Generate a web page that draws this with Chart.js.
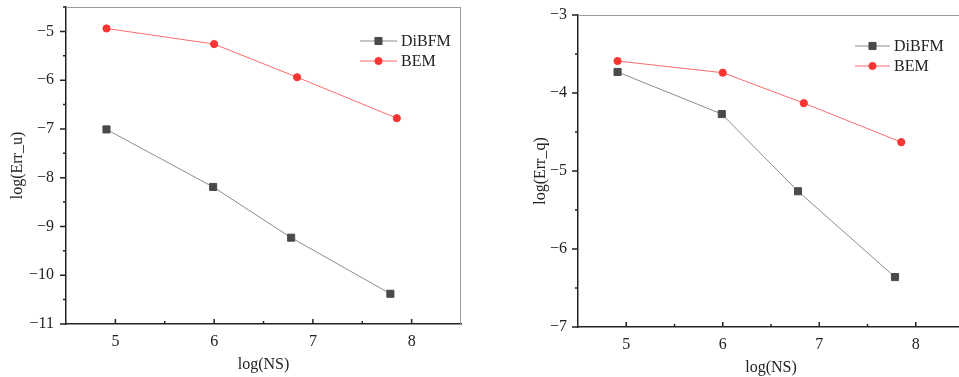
<!DOCTYPE html>
<html>
<head>
<meta charset="utf-8">
<script src="https://cdn.jsdelivr.net/npm/chart.js@4.4.1/dist/chart.umd.min.js"></script>
<style>
  html, body { margin: 0; padding: 0; background: #fff; overflow: hidden; width: 959px; height: 377px; }
  #wrapU { position: absolute; left: 0; top: 0; width: 480px; height: 377px; }
  #wrapQ { position: absolute; left: 480px; top: 0; width: 500px; height: 377px; }
</style>
</head>
<body>
<div id="wrapU"><canvas id="chartU"></canvas></div>
<div id="wrapQ"><canvas id="chartQ"></canvas></div>
<script>
const nsDiBFM = [4.91, 5.99, 6.78, 7.785];
const nsBEM = [4.91, 6.0, 6.84, 7.85];
const errU_DiBFM = [-7.01, -8.19, -9.23, -10.38];
const errU_BEM = [-4.94, -5.26, -5.94, -6.78];
const errQ_DiBFM = [-3.73, -4.27, -5.26, -6.36];
const errQ_BEM = [-3.59, -3.74, -4.13, -4.63];
const xTicks = [5, 6, 7, 8];
const yTicksU = [-11, -10, -9, -8, -7, -6, -5];
const yTicksQ = [-7, -6, -5, -4, -3];
const seriesNames = ["DiBFM", "BEM"];

const serif = "'Liberation Serif', 'DejaVu Serif', serif";
const fmt = (v) => (v < 0 ? "\u2212" + Math.abs(v) : String(v));
const toPoints = (xs, ys) => xs.map((x, i) => ({ x, y: ys[i] }));

// minor/major tick marks plus the thin grey frame on top and right
const frameTicks = {
  id: "frameTicks",
  afterDraw(chart) {
    const { ctx, chartArea: a, scales: { x, y } } = chart;
    ctx.save();
    ctx.strokeStyle = "#9a9a9a";
    ctx.lineWidth = 1;
    ctx.beginPath();
    ctx.moveTo(a.left, a.top + 0.5);
    ctx.lineTo(a.right, a.top + 0.5);
    ctx.moveTo(a.right - 0.5, a.top);
    ctx.lineTo(a.right - 0.5, a.bottom);
    ctx.stroke();
    ctx.strokeStyle = "#222";
    ctx.lineWidth = 1.5;
    ctx.beginPath();
    for (let v = x.min + 0.5; v < x.max; v += 0.5) {
      const px = x.getPixelForValue(v);
      const len = Number.isInteger(v) ? 5 : 3;
      ctx.moveTo(px, a.bottom);
      ctx.lineTo(px, a.bottom - len);
    }
    for (let v = y.min; v <= y.max + 1e-9; v += 0.5) {
      const py = y.getPixelForValue(v);
      const len = Number.isInteger(v) ? 6 : 3;
      ctx.moveTo(a.left, py);
      ctx.lineTo(a.left - len, py);
    }
    ctx.stroke();
    ctx.restore();
  },
};

const lineLegend = {
  id: "lineLegend",
  afterDraw(chart, args, opts) {
    const { ctx } = chart;
    chart.data.datasets.forEach((ds, i) => {
      const y = opts.y + i * opts.gap;
      const mx = opts.x + opts.len / 2;
      ctx.save();
      ctx.strokeStyle = ds.borderColor;
      ctx.lineWidth = ds.borderWidth;
      ctx.beginPath();
      ctx.moveTo(opts.x, y);
      ctx.lineTo(opts.x + opts.len, y);
      ctx.stroke();
      ctx.fillStyle = ds.pointBackgroundColor;
      ctx.strokeStyle = ds.pointBorderColor;
      ctx.lineWidth = 1;
      ctx.beginPath();
      if (ds.pointStyle === "rect") {
        const s = ds.pointRadius * Math.SQRT1_2;
        ctx.rect(mx - s, y - s, 2 * s, 2 * s);
      } else {
        ctx.arc(mx, y, ds.pointRadius, 0, Math.PI * 2);
      }
      ctx.fill();
      ctx.stroke();
      ctx.fillStyle = "#222";
      ctx.font = "16px " + serif;
      ctx.textBaseline = "middle";
      ctx.fillText(ds.label, opts.x + opts.len + 4, y + 1);
      ctx.restore();
    });
  },
};

function makeChart(id, cfg) {
  return new Chart(document.getElementById(id), {
    type: "line",
    data: {
      datasets: [
        {
          label: seriesNames[0],
          data: toPoints(nsDiBFM, cfg.dibfm),
          borderColor: "#8c8c8c",
          borderWidth: 1,
          pointStyle: "rect",
          pointRadius: 5,
          pointBackgroundColor: "#4a4a4a",
          pointBorderColor: "#4a4a4a",
          pointBorderWidth: 1,
        },
        {
          label: seriesNames[1],
          data: toPoints(nsBEM, cfg.bem),
          borderColor: "#ff6b6b",
          borderWidth: 1,
          pointStyle: "circle",
          pointRadius: 3.6,
          pointBackgroundColor: "#f83434",
          pointBorderColor: "#f83434",
          pointBorderWidth: 1,
        },
      ],
    },
    options: {
      responsive: true,
      maintainAspectRatio: false,
      animation: false,
      layout: { padding: cfg.padding },
      plugins: {
        legend: { display: false },
        tooltip: { enabled: false },
        lineLegend: cfg.legend,
      },
      scales: {
        x: {
          type: "linear",
          min: 4.5,
          max: 8.5,
          afterBuildTicks: (s) => { s.ticks = xTicks.map((v) => ({ value: v })); },
          afterFit: (s) => { s.height = cfg.xHeight; s.paddingLeft = 0; s.paddingRight = 0; },
          grid: { display: false, drawTicks: false },
          border: { color: "#222", width: 1.5 },
          ticks: { color: "#222", padding: 8, font: { family: serif, size: 16 }, callback: fmt, maxRotation: 0 },
          title: { display: true, text: "log(NS)", color: "#222", font: { family: serif, size: 16 }, padding: { bottom: cfg.xTitlePad, top: 0 } },
        },
        y: {
          type: "linear",
          min: cfg.yMin,
          max: cfg.yMax,
          afterBuildTicks: (s) => { s.ticks = cfg.yTicks.map((v) => ({ value: v })); },
          afterFit: (s) => { s.width = cfg.yWidth; s.paddingTop = 0; s.paddingBottom = 0; },
          grid: { display: false, drawTicks: false },
          border: { color: "#222", width: 1.5 },
          ticks: { color: "#222", padding: cfg.yTickPad, font: { family: serif, size: 16 }, callback: fmt },
          title: { display: true, text: cfg.yTitle, color: "#222", font: { family: serif, size: 16 }, padding: { top: cfg.yTitlePad, bottom: 0 } },
        },
      },
    },
    plugins: [frameTicks, lineLegend],
  });
}

makeChart("chartU", {
  dibfm: errU_DiBFM,
  bem: errU_BEM,
  yMin: -11,
  yMax: -4.5,
  yTicks: yTicksU,
  yTitle: "log(Err_u)",
  padding: { top: 7, right: 19, left: 0, bottom: 0 },
  yWidth: 66,
  xHeight: 53,
  yTitlePad: 8,
  xTitlePad: 3,
  yTickPad: 12,
  legend: { x: 360, y: 41, gap: 20, len: 37 },
});

makeChart("chartQ", {
  dibfm: errQ_DiBFM,
  bem: errQ_BEM,
  yMin: -7,
  yMax: -3,
  yTicks: yTicksQ,
  yTitle: "log(Err_q)",
  padding: { top: 15, right: 16, left: 0, bottom: 0 },
  yWidth: 98,
  xHeight: 50,
  yTitlePad: 51,
  xTitlePad: 0,
  yTickPad: 11,
  legend: { x: 375, y: 46, gap: 20, len: 35 },
});
</script>
</body>
</html>
